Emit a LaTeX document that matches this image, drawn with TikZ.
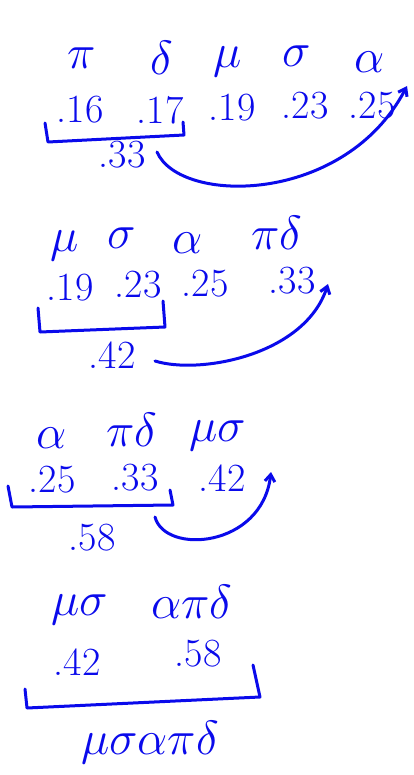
\documentclass[tikz,border=0pt]{standalone}
\usepackage{fix-cm}
\usepackage{amsmath}
\usetikzlibrary{arrows.meta, positioning, calc}
\definecolor{ink}{RGB}{10,10,235}

\begin{document}
\begin{tikzpicture}[x=1pt, y=-1pt, >={Straight Barb[length=7pt, width=10pt]},
    ink line/.style={draw=ink, line width=3pt, line cap=round, line join=round},
    lbl/.style={text=ink, inner sep=0pt, font=\fontsize{48}{52}\selectfont},
    val/.style={text=ink, inner sep=0pt, font=\fontsize{40}{44}\selectfont}]
    \useasboundingbox (0,0) rectangle (413,775);

    % Schritt 1
    \node[lbl] (pi1) at (82,58) {$\pi$};
    \node[lbl] (de1) at (162,58) {$\delta$};
    \node[lbl] (mu1) at (228,62) {$\mu$};
    \node[lbl] (si1) at (297,56) {$\sigma$};
    \node[lbl] (al1) at (370,62) {$\alpha$};
    \node[val] (v16) at (80,110) {.16};
    \node[val] (v17) at (160,110) {.17};
    \node[val] (v19) at (232,108) {.19};
    \node[val] (v23) at (305,106) {.23};
    \node[val] (v25) at (372,106) {.25};
    \node[val] (s33) at (122,155) {.33};
    \coordinate (b1a) at (45,123);
    \coordinate (b1b) at (48,142);
    \coordinate (b1c) at (184,135);
    \coordinate (b1d) at (183,122);
    \coordinate (e1) at (407,86);
    \draw[ink line] (b1a) -- (b1b) -- (b1c) -- (b1d);
    \draw[ink line, ->] (157,152) .. controls (180,205) and (345,205) .. (e1);

    % Schritt 2
    \node[lbl] (mu2) at (65,246) {$\mu$};
    \node[lbl] (si2) at (122,238) {$\sigma$};
    \node[lbl] (al2) at (188,243) {$\alpha$};
    \node[lbl] (pd2) at (277,233) {$\pi\delta$};
    \node[val] (v19b) at (70,288) {.19};
    \node[val] (v23b) at (138,285) {.23};
    \node[val] (v25b) at (205,284) {.25};
    \node[val] (v33b) at (292,281) {.33};
    \node[val] (s42) at (112,355) {.42};
    \coordinate (b2a) at (38,308);
    \coordinate (b2b) at (40,332);
    \coordinate (b2c) at (165,327);
    \coordinate (b2d) at (163,301);
    \coordinate (e2) at (328,284);
    \draw[ink line] (b2a) -- (b2b) -- (b2c) -- (b2d);
    \draw[ink line, ->] (155,361) .. controls (200,375) and (305,355) .. (e2);

    % Schritt 3
    \node[lbl] (al3) at (52,438) {$\alpha$};
    \node[lbl] (pd3) at (132,430) {$\pi\delta$};
    \node[lbl] (ms3) at (218,436) {$\mu\sigma$};
    \node[val] (v25c) at (52,480) {.25};
    \node[val] (v33c) at (135,478) {.33};
    \node[val] (v42c) at (222,478) {.42};
    \node[val] (s58) at (92,538) {.58};
    \coordinate (b3a) at (8,486);
    \coordinate (b3b) at (12,507);
    \coordinate (b3c) at (173,505);
    \coordinate (b3d) at (170,490);
    \coordinate (e3) at (271,472);
    \draw[ink line] (b3a) -- (b3b) -- (b3c) -- (b3d);
    \draw[ink line, ->] (155,517) .. controls (165,555) and (262,548) .. (e3);

    % Schritt 4
    \node[lbl] (ms4) at (80,610) {$\mu\sigma$};
    \node[lbl] (apd4) at (192,602) {$\alpha\pi\delta$};
    \node[val] (v42d) at (77,662) {.42};
    \node[val] (v58d) at (198,654) {.58};
    \coordinate (b4a) at (25,689);
    \coordinate (b4b) at (27,708);
    \coordinate (b4c) at (260,697);
    \coordinate (b4d) at (253,665);
    \draw[ink line] (b4a) -- (b4b) -- (b4c) -- (b4d);
    \node[lbl] (res) at (150,742) {$\mu\sigma\alpha\pi\delta$};
\end{tikzpicture}
\end{document}
